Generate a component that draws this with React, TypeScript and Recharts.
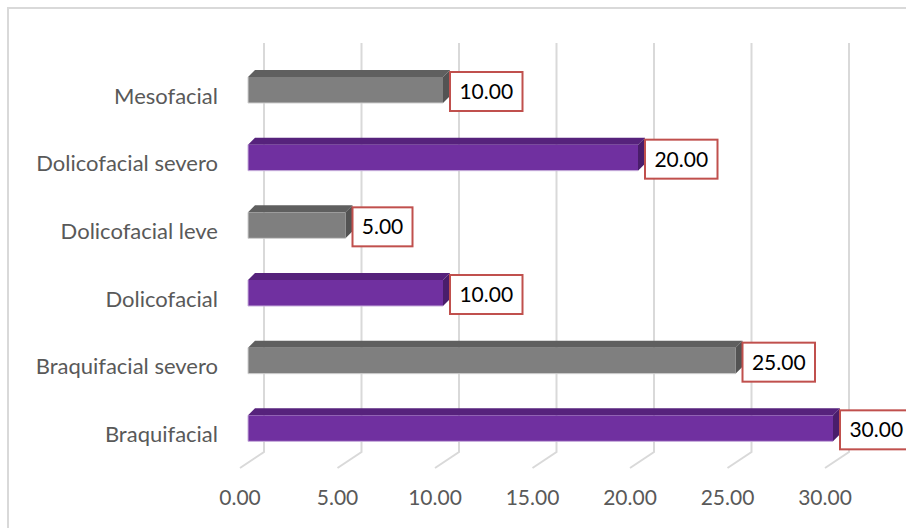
import { Bar, BarChart, CartesianGrid, Cell, LabelList, XAxis, YAxis } from 'recharts';

const categories = [
  'Mesofacial',
  'Dolicofacial severo',
  'Dolicofacial leve',
  'Dolicofacial',
  'Braquifacial severo',
  'Braquifacial',
];
const percentages = [10, 20, 5, 10, 25, 30];
const xTicks = [0, 5, 10, 15, 20, 25, 30];

const data = categories.map((name, i) => ({ name, value: percentages[i] }));

const FONT = 'Lato, "Noto Sans", sans-serif';
const AXIS_TEXT = '#595959';
const GRID = '#d9d9d9';

// front / top / side shades for the two alternating bar colours
const SHADES: Record<string, { front: string; top: string; side: string; edge: string }> = {
  purple: { front: '#7030a0', top: '#56227c', side: '#4a1d6b', edge: '#c7aedb' },
  gray: { front: '#7f7f7f', top: '#5f5f5f', side: '#535353', edge: '#cfcfcf' },
};

const DEPTH = 7; // 3D offset of the bar's top and side faces

function Bar3D(props: any) {
  const { x, y, width, height, index } = props;
  const s = SHADES[index % 2 ? 'purple' : 'gray'];
  const top = y - 6;
  const bottom = top + height;
  const right = x + width;
  return (
    <g>
      <polygon
        points={`${x},${top} ${x + DEPTH},${top - DEPTH} ${right + DEPTH},${top - DEPTH} ${right},${top}`}
        fill={s.top}
      />
      <polygon
        points={`${right},${top} ${right + DEPTH},${top - DEPTH} ${right + DEPTH},${bottom - DEPTH} ${right},${bottom}`}
        fill={s.side}
      />
      <rect x={x} y={top} width={width} height={height} fill={s.front} />
      <polyline points={`${x},${top} ${x},${bottom} ${right},${bottom}`} fill="none" stroke={s.edge} strokeWidth={1} />
    </g>
  );
}

// gridlines sit on the back wall and run down across the floor to the front
function GridLine(props: any) {
  const { x1, y1, y2 } = props;
  const back = x1 + 16;
  return (
    <polyline
      key={`grid-${x1}`}
      points={`${back},${y1 - 19} ${back},${y2 - 16} ${x1 - 8},${y2}`}
      fill="none"
      stroke={GRID}
      strokeWidth={2}
    />
  );
}

function ValueTick(props: any) {
  const { x, y, payload } = props;
  return (
    <text x={x - 8} y={y + 30} dy="0.35em" textAnchor="middle" fill={AXIS_TEXT} fontSize={21} fontFamily={FONT}>
      {Number(payload.value).toFixed(2)}
    </text>
  );
}

function CategoryTick(props: any) {
  const { x, y, payload } = props;
  return (
    <text x={x} y={y} dy="0.35em" textAnchor="end" fill={AXIS_TEXT} fontSize={22} fontFamily={FONT}>
      {payload.value}
    </text>
  );
}

function ValueLabel(props: any) {
  const { x, y, width, height, value } = props;
  const text = Number(value).toFixed(2);
  const boxW = text.length * 12.5 + 10;
  const left = x + width + DEPTH;
  const cy = y + height / 2 - 4.5;
  return (
    <g>
      <rect x={left} y={cy - 19.5} width={boxW} height={39} fill="#ffffff" stroke="#c0504d" strokeWidth={2} />
      <text x={left + boxW / 2} y={cy} dy="0.35em" textAnchor="middle" fill="#000000" fontSize={21} fontFamily={FONT}>
        {text}
      </text>
    </g>
  );
}

export default function App() {
  return (
    <div
      style={{
        position: 'fixed',
        top: 7,
        left: 7,
        width: 905,
        height: 530,
        overflow: 'hidden',
        boxSizing: 'border-box',
        borderTop: `2px solid ${GRID}`,
        borderLeft: `2px solid ${GRID}`,
        background: '#fff',
      }}
    >
      <BarChart
        width={903}
        height={519}
        data={data}
        layout="vertical"
        margin={{ top: 53, right: 79, bottom: 20, left: 0 }}
      >
        <CartesianGrid horizontal={false} vertical={GridLine} />
        <XAxis
          type="number"
          domain={[0, 30]}
          ticks={xTicks}
          axisLine={false}
          tickLine={false}
          tickSize={0}
          tickMargin={0}
          height={40}
          tick={ValueTick}
        />
        <YAxis
          type="category"
          dataKey="name"
          width={239}
          axisLine={false}
          tickLine={false}
          tickSize={0}
          tickMargin={30}
          tick={CategoryTick}
        />
        <Bar dataKey="value" barSize={26} shape={Bar3D} isAnimationActive={false}>
          {data.map((d, i) => (
            <Cell key={d.name} fill={i % 2 ? SHADES.purple.front : SHADES.gray.front} />
          ))}
          <LabelList dataKey="value" content={ValueLabel} />
        </Bar>
      </BarChart>
    </div>
  );
}
